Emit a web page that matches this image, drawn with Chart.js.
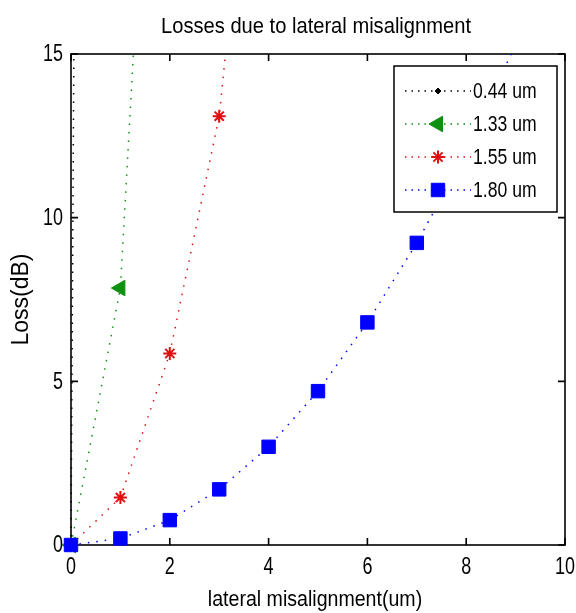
<!DOCTYPE html>
<html>
<head>
<meta charset="utf-8">
<script src="https://cdn.jsdelivr.net/npm/chart.js@4/dist/chart.umd.min.js"></script>
<style>
  body { margin: 0; background: #fff; }
  canvas { display: block; }
</style>
</head>
<body>
<canvas id="pertes" width="576" height="613"></canvas>
<script>
// misalignment (um) for each point
const misalign = [0, 1, 2, 3, 4, 5, 6, 7, 8, 9];

// losses (dB), one array per wavelength
const loss044 = [0, 260];
const loss133 = [0, 7.85, 35];
const loss155 = [0, 1.45, 5.85, 13.1, 28];
const loss180 = [0, 0.2, 0.76, 1.7, 3.0, 4.7, 6.8, 9.23, 12.0, 15.3];

const seriesNames = ['0.44 um', '1.33 um', '1.55 um', '1.80 um'];

const xTicks = [0, 2, 4, 6, 8, 10];
const yTicks = [0, 5, 10, 15];

const chartTitle = 'Losses due to lateral misalignment';
const xTitle = 'lateral misalignment(um)';
const yTitle = 'Loss(dB)';

const sans = '"Liberation Sans", Arial, sans-serif';

function pts(vals) {
  return vals.map((v, i) => ({ x: misalign[i], y: v }));
}

// squeezed text, the matlab export is narrow horizontally
function texte(ctx, txt, x, y, size, sx, align, baseline) {
  ctx.save();
  ctx.fillStyle = '#000';
  ctx.font = size + 'px ' + sans;
  ctx.textAlign = align;
  ctx.textBaseline = baseline;
  ctx.translate(x, y);
  ctx.scale(sx, 1);
  ctx.fillText(txt, 0, 0);
  ctx.restore();
}

// common look of a dotted matlab line
function serie(label, vals, color, style, radius, extra) {
  return Object.assign({
    label: label,
    data: pts(vals),
    borderColor: color,
    backgroundColor: color,
    borderWidth: 1.5,
    borderDash: [1.5, 7],
    pointStyle: style,
    pointRadius: radius,
    pointHoverRadius: radius,
    pointBorderColor: color,
    pointBackgroundColor: color,
    pointBorderWidth: 1,
    tension: 0,
    clip: { left: 14, top: 0, right: 0, bottom: 14 }
  }, extra || {});
}

const datasets = [
  serie(seriesNames[0], loss044, '#000000', 'rectRot', 3, { order: 3 }),
  serie(seriesNames[1], loss133, '#109010', 'triangle', 9, { order: 2, pointRotation: -90 }),
  serie(seriesNames[2], loss155, '#e01010', 'star', 6.5, { order: 1, pointBorderWidth: 2 }),
  serie(seriesNames[3], loss180, '#0000ff', 'rect', 9.5, { order: 0 })
];

// box, inward ticks, tick labels and titles (matlab style)
const cadre = {
  id: 'cadre',
  beforeDatasetsDraw(chart) {
    const { ctx, chartArea: a, scales: { x, y } } = chart;
    const tl = 7;
    ctx.save();
    ctx.strokeStyle = '#000';
    ctx.lineWidth = 1.6;
    ctx.strokeRect(a.left, a.top, a.right - a.left, a.bottom - a.top);
    ctx.beginPath();
    xTicks.forEach(t => {
      const px = x.getPixelForValue(t);
      ctx.moveTo(px, a.bottom); ctx.lineTo(px, a.bottom - tl);
      ctx.moveTo(px, a.top); ctx.lineTo(px, a.top + tl);
    });
    yTicks.forEach(t => {
      const py = y.getPixelForValue(t);
      ctx.moveTo(a.left, py); ctx.lineTo(a.left + tl, py);
      ctx.moveTo(a.right, py); ctx.lineTo(a.right - tl, py);
    });
    ctx.stroke();
    ctx.restore();

    xTicks.forEach(t => texte(ctx, String(t), x.getPixelForValue(t), a.bottom + 29, 23, 0.78, 'center', 'alphabetic'));
    yTicks.forEach(t => texte(ctx, String(t), a.left - 8, y.getPixelForValue(t) + 1, 23, 0.78, 'right', 'middle'));

    const mid = (a.left + a.right) / 2;
    texte(ctx, chartTitle, mid - 2, 33, 22, 0.915, 'center', 'alphabetic');
    texte(ctx, xTitle, mid - 3, 606, 22, 0.89, 'center', 'alphabetic');
  }
};

// legend with white box, drawn over the curves
const legende = {
  id: 'legende',
  afterDatasetsDraw(chart) {
    const { ctx, chartArea: a } = chart;
    const w = 163, h = 146;
    const left = a.right - 8 - w, top = a.top + 12;
    ctx.save();
    ctx.fillStyle = '#fff';
    ctx.fillRect(left, top, w, h);
    ctx.strokeStyle = '#000';
    ctx.lineWidth = 1.5;
    ctx.strokeRect(left, top, w, h);
    chart.data.datasets.forEach((ds, i) => {
      const yy = top + 25 + i * 33;
      ctx.strokeStyle = ds.borderColor;
      ctx.lineWidth = 1.5;
      ctx.setLineDash([1.5, 5]);
      ctx.beginPath();
      ctx.moveTo(left + 11, yy);
      ctx.lineTo(left + 77, yy);
      ctx.stroke();
      ctx.setLineDash([]);
      ctx.fillStyle = ds.pointBackgroundColor;
      ctx.strokeStyle = ds.pointBorderColor;
      ctx.lineWidth = ds.pointBorderWidth;
      Chart.helpers.drawPoint(ctx, {
        pointStyle: ds.pointStyle,
        rotation: ds.pointRotation || 0,
        radius: ds.pointRadius,
        borderWidth: ds.pointBorderWidth
      }, left + 44, yy);
      texte(ctx, ds.label, left + 79, yy + 1, 22, 0.8, 'left', 'middle');
    });
    ctx.restore();
  }
};

const config = {
  type: 'line',
  data: { datasets: datasets },
  options: {
    responsive: false,
    animation: false,
    events: [],
    layout: { padding: { left: 0, right: 11, top: 54, bottom: 0 } },
    scales: {
      x: {
        type: 'linear',
        min: 0,
        max: 10,
        afterBuildTicks: s => { s.ticks = xTicks.map(v => ({ value: v })); },
        afterFit: s => { s.height = 68; s.paddingLeft = 0; s.paddingRight = 0; },
        grid: { display: false },
        border: { display: false },
        ticks: { display: false }
      },
      y: {
        min: 0,
        max: 15,
        afterBuildTicks: s => { s.ticks = yTicks.map(v => ({ value: v })); },
        afterFit: s => { s.width = 71; s.paddingTop = 0; s.paddingBottom = 0; },
        grid: { display: false },
        border: { display: false },
        ticks: { display: false },
        title: {
          display: true,
          text: yTitle,
          color: '#000',
          font: { family: sans, size: 23 },
          padding: { top: 8, bottom: 0 }
        }
      }
    },
    plugins: {
      legend: { display: false },
      tooltip: { enabled: false }
    }
  },
  plugins: [cadre, legende]
};

const monGraphique = new Chart(document.getElementById('pertes'), config);
</script>
</body>
</html>
